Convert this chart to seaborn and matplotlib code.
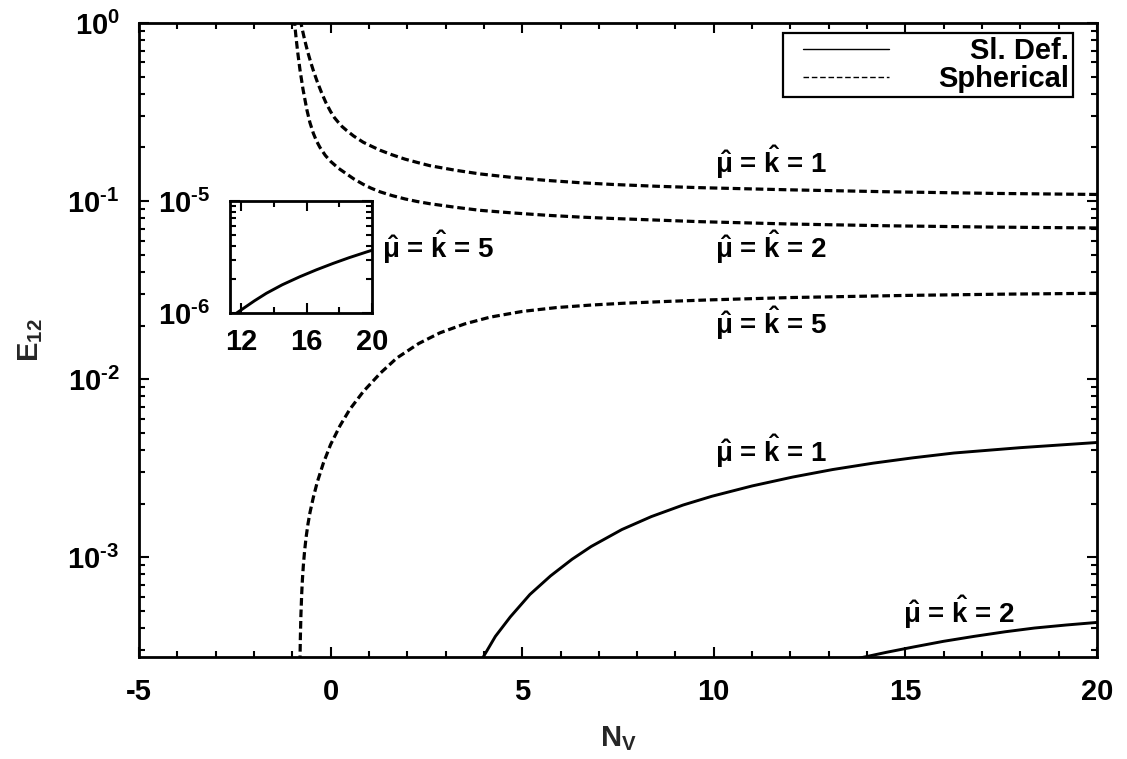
import numpy as np
import pandas as pd
import matplotlib
matplotlib.use("Agg")
import matplotlib.pyplot as plt
import seaborn as sns
from matplotlib.ticker import MultipleLocator, LogLocator, FixedLocator, FuncFormatter, NullFormatter
from matplotlib.lines import Line2D
from matplotlib.legend_handler import HandlerLine2D

# ---- data: E12 versus N_V ----
# spherical, mu = k = 1
sph1_nv = [-0.79, -0.754, -0.70, -0.65, -0.60, -0.52, -0.452, -0.35, -0.23, -0.12, 0.0,
           0.1, 0.2, 0.3, 0.42, 0.6, 0.85, 1.05, 1.29, 1.6, 1.94, 2.25, 2.59, 3.25, 3.9,
           4.77, 5.64, 6.5, 7.38, 8.5, 9.64, 12.0, 14.6, 17.3, 20.0]
sph1_e = [1.047, 0.953, 0.845, 0.762, 0.692, 0.603, 0.542, 0.469, 0.403, 0.356, 0.318,
          0.294, 0.277, 0.262, 0.249, 0.232, 0.214, 0.204, 0.193, 0.182, 0.172, 0.165,
          0.158, 0.149, 0.142, 0.1355, 0.1306, 0.1268, 0.1239, 0.1211, 0.1189, 0.1156,
          0.1127, 0.1104, 0.1089]

# spherical, mu = k = 2
sph2_nv = [-0.95, -0.93, -0.90, -0.86, -0.80, -0.72, -0.62, -0.54, -0.45, -0.37, -0.28,
           -0.14, 0.0, 0.2, 0.42, 0.6, 0.85, 1.05, 1.29, 1.6, 1.94, 2.25, 2.59, 3.25, 3.9,
           4.77, 5.64, 6.5, 7.38, 8.5, 9.64, 12.0, 14.6, 17.3, 20.0]
sph2_e = [1.064, 0.953, 0.822, 0.689, 0.547, 0.424, 0.326, 0.276, 0.240, 0.218, 0.2004,
          0.1807, 0.1671, 0.1531, 0.1419, 0.1334, 0.1242, 0.1183, 0.1127, 0.1074, 0.1028,
          0.0995, 0.0966, 0.0923, 0.0887, 0.0857, 0.0832, 0.0813, 0.0798, 0.0782, 0.0766,
          0.0743, 0.0726, 0.0714, 0.0706]

# spherical, mu = k = 5
sph5_nv = [-0.80, -0.79, -0.775, -0.755, -0.735, -0.712, -0.68, -0.64, -0.59, -0.537,
           -0.45, -0.35, -0.19, 0.0, 0.245, 0.5, 0.853, 1.3, 1.725, 2.3, 2.855, 3.5, 4.16,
           5.0, 5.9, 6.8, 7.64, 8.8, 9.9, 12.0, 15.0, 17.5, 20.0]
sph5_e = [2.54e-4, 3.47e-4, 4.71e-4, 6.18e-4, 7.52e-4, 8.93e-4, 1.076e-3, 1.291e-3,
          1.538e-3, 1.786e-3, 2.17e-3, 2.63e-3, 3.37e-3, 4.29e-3, 5.47e-3, 6.76e-3,
          8.51e-3, 1.081e-2, 1.312e-2, 1.585e-2, 1.820e-2, 2.042e-2, 2.228e-2, 2.399e-2,
          2.523e-2, 2.606e-2, 2.667e-2, 2.732e-2, 2.786e-2, 2.871e-2, 2.951e-2, 2.999e-2,
          3.034e-2]

# slightly deformed, mu = k = 1
sl1_nv = [3.90, 3.953, 4.3, 4.69, 5.2, 5.74, 6.3, 6.8, 7.6, 8.37, 9.2, 9.95, 11.0, 12.06,
          13.1, 14.16, 15.2, 16.27, 18.0, 20.0]
sl1_e = [2.54e-4, 2.68e-4, 3.59e-4, 4.62e-4, 6.17e-4, 7.85e-4, 9.73e-4, 1.148e-3,
         1.429e-3, 1.690e-3, 1.963e-3, 2.198e-3, 2.512e-3, 2.818e-3, 3.105e-3, 3.373e-3,
         3.614e-3, 3.846e-3, 4.121e-3, 4.406e-3]

# slightly deformed, mu = k = 2
sl2_nv = [13.7, 13.9, 14.5, 15.21, 16.0, 16.79, 17.6, 18.37, 19.2, 20.0]
sl2_e = [2.67e-4, 2.74e-4, 2.92e-4, 3.13e-4, 3.37e-4, 3.59e-4, 3.81e-4, 4.00e-4,
         4.16e-4, 4.30e-4]

# slightly deformed, mu = k = 5 (inset)
inset_nv = [11.6, 12.0, 12.8, 13.53, 14.5, 15.58, 16.6, 17.62, 18.6, 19.67, 20.0]
inset_e = [0.975e-6, 1.069e-6, 1.285e-6, 1.500e-6, 1.786e-6, 2.109e-6, 2.432e-6,
           2.773e-6, 3.119e-6, 3.508e-6, 3.631e-6]

legend_labels = ["Sl. Def.", "Spherical"]
curve_texts = [r"$\mathrm{\hat{\mu}}$ = $\hat{\mathbf{k}}$ = 1",
               r"$\mathrm{\hat{\mu}}$ = $\hat{\mathbf{k}}$ = 2",
               r"$\mathrm{\hat{\mu}}$ = $\hat{\mathbf{k}}$ = 5",
               r"$\mathrm{\hat{\mu}}$ = $\hat{\mathbf{k}}$ = 1",
               r"$\mathrm{\hat{\mu}}$ = $\hat{\mathbf{k}}$ = 2",
               r"$\mathrm{\hat{\mu}}$ = $\hat{\mathbf{k}}$ = 5"]
inset_xticks = [12, 16, 20]

# ---- style ----
sns.set_theme(style="ticks")
plt.rcParams.update({
    "font.family": ["Liberation Sans", "DejaVu Sans"],
    "font.weight": "bold",
    "axes.unicode_minus": False,
    "mathtext.fontset": "custom",
    "mathtext.rm": "Liberation Sans",
    "mathtext.it": "Liberation Sans:italic",
    "mathtext.bf": "Liberation Sans:bold",
    "axes.linewidth": 2.0,
    "axes.edgecolor": "black",
    "text.color": "black",
    "xtick.color": "black",
    "ytick.color": "black",
})

FS = 21


def log_label(v, pos):
    p = int(round(np.log10(v)))
    if p < 0:
        return r"$\mathdefault{10^{\text{-}%d}}$" % (-p)
    return r"$\mathdefault{10^{%d}}$" % p


def style_ticks(a, pad_x, pad_y):
    a.tick_params(which="both", direction="in", top=True, right=True,
                  width=1.5, labelsize=FS)
    a.tick_params(which="major", length=7.5)
    a.tick_params(which="minor", length=4)
    a.tick_params(axis="x", pad=pad_x)
    a.tick_params(axis="y", pad=pad_y)
    for s in a.spines.values():
        s.set_linewidth(2.0)
        s.set_color("black")


fig = plt.figure(figsize=(11.27, 7.59), dpi=100)
ax = fig.add_axes([0.12334, 0.13439, 0.85004, 0.83531])
ax.set_yscale("log")

solid = dict(color="black", lw=2.1, estimator=None, sort=False, errorbar=None)
dashed = dict(solid, lw=2.3, linestyle=(0, (2.4, 1.2)))

sns.lineplot(x=sph1_nv, y=sph1_e, ax=ax, **dashed)
sns.lineplot(x=sph2_nv, y=sph2_e, ax=ax, **dashed)
sns.lineplot(x=sph5_nv, y=sph5_e, ax=ax, **dashed)
sns.lineplot(x=sl1_nv, y=sl1_e, ax=ax, **solid)
sns.lineplot(x=sl2_nv, y=sl2_e, ax=ax, **solid)

ax.set_xlim(-5, 20)
ax.set_ylim(2.75e-4, 1.0)
ax.xaxis.set_major_locator(MultipleLocator(5))
ax.xaxis.set_minor_locator(MultipleLocator(1))
ax.yaxis.set_major_locator(LogLocator(base=10, numticks=10))
ax.yaxis.set_minor_locator(LogLocator(base=10, subs=np.arange(2, 10), numticks=20))
ax.yaxis.set_major_formatter(FuncFormatter(log_label))
ax.yaxis.set_minor_formatter(NullFormatter())
style_ticks(ax, pad_x=15, pad_y=14)

ax.set_xlabel(r"N$_{\mathdefault{V}}$", fontsize=FS, fontweight="bold")
ax.set_ylabel(r"E$_{\mathdefault{12}}$", fontsize=FS, fontweight="bold")
ax.xaxis.set_label_coords(0.5, -0.106)
ax.yaxis.set_label_coords(-0.098, 0.5)

# curve annotations
text_pos = [(10.03, 0.144), (10.03, 0.0477), (10.03, 0.0179),
            (10.03, 0.00343), (14.94, 4.27e-4), (1.34, 0.0477)]
for s, (tx, ty) in zip(curve_texts, text_pos):
    ax.text(tx, ty, s, fontsize=20, fontweight="bold", ha="left", va="baseline")

# legend
handles = [Line2D([], [], color="black", lw=1.0),
           Line2D([], [], color="black", lw=1.0, linestyle=(0, (4, 2)))]
leg = ax.legend(handles, legend_labels, loc="upper right",
                bbox_to_anchor=(0.975, 0.9847), borderaxespad=0,
                prop={"weight": "bold", "size": FS},
                handlelength=4.05, handletextpad=1.13, borderpad=0.14,
                labelspacing=0.0, fancybox=False, framealpha=1,
                edgecolor="black",
                handler_map={Line2D: HandlerLine2D(marker_pad=0.55, numpoints=2)})
leg.get_frame().set_linewidth(1.6)

# inset
axin = fig.add_axes([0.20408, 0.58762, 0.12600, 0.14756])
axin.set_facecolor("white")
axin.set_yscale("log")
sns.lineplot(x=inset_nv, y=inset_e, ax=axin, **solid)
axin.set_xlim(11.3, 20)
axin.set_ylim(1e-6, 1e-5)
axin.xaxis.set_major_locator(FixedLocator(inset_xticks))
axin.xaxis.set_minor_locator(MultipleLocator(2))
axin.yaxis.set_major_locator(LogLocator(base=10, numticks=10))
axin.yaxis.set_minor_locator(LogLocator(base=10, subs=np.arange(2, 10), numticks=20))
axin.yaxis.set_major_formatter(FuncFormatter(log_label))
axin.yaxis.set_minor_formatter(NullFormatter())
axin.set_xlabel("")
axin.set_ylabel("")
style_ticks(axin, pad_x=11, pad_y=14)

# right-align the legend labels
fig.canvas.draw()
renderer = fig.canvas.get_renderer()
texts = leg.get_texts()
widths = [t.get_window_extent(renderer).width for t in texts]
wmax = max(widths)
for t, w in zip(texts, widths):
    t.set_x(wmax - w)

fig.savefig("out.png", dpi=100)
